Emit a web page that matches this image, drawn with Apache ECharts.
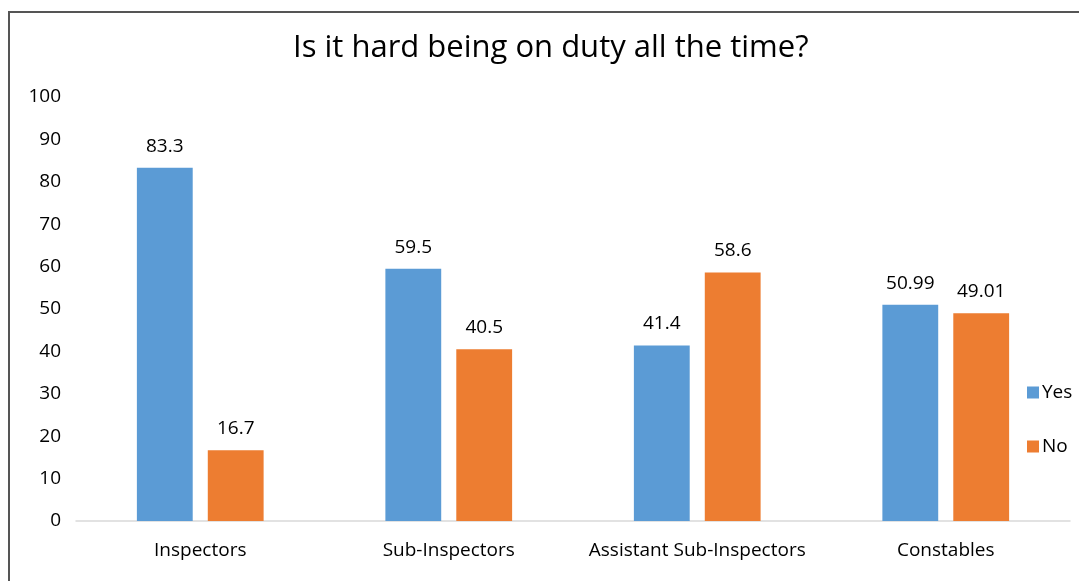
<!DOCTYPE html>
<html>
<head>
<meta charset="utf-8">
<script src="https://cdn.jsdelivr.net/npm/echarts@6/dist/echarts.min.js"></script>
<style>
html,body{margin:0;padding:0;background:#fff;overflow:hidden;}
#frame{position:absolute;left:8px;top:11px;width:1100px;height:600px;border-left:2px solid #555;border-top:2px solid #555;box-sizing:border-box;}
#chart{position:absolute;left:0;top:0;width:1079px;height:581px;}
</style>
</head>
<body>
<div id="frame"></div>
<div id="chart"></div>
<script>
const categories = ['Inspectors', 'Sub-Inspectors', 'Assistant Sub-Inspectors', 'Constables'];
const yesValues = [83.3, 59.5, 41.4, 50.99];
const noValues = [16.7, 40.5, 58.6, 49.01];
const seriesNames = ['Yes', 'No'];
const titleText = 'Is it hard being on duty all the time?';

const FONT = 'Open Sans';
const chart = echarts.init(document.getElementById('chart'));
const labelStyle = {show: true, position: 'top', distance: 12, color: '#000', fontSize: 19, fontFamily: FONT};
chart.setOption({
  animation: false,
  backgroundColor: 'transparent',
  title: {text: titleText, left: 288, top: 28, textStyle: {fontFamily: FONT, fontSize: 31, fontWeight: 'normal', color: '#000'}},
  grid: {left: 76, right: 9, top: 97, bottom: 60, containLabel: false},
  legend: {orient: 'vertical', left: 1022, top: 378, itemGap: 35, itemWidth: 12, itemHeight: 12, icon: 'rect',
    textStyle: {fontFamily: FONT, fontSize: 19, color: '#000', padding: [0,0,0,-2]}, data: seriesNames},
  xAxis: {type: 'category', data: categories,
    axisLine: {lineStyle: {color: '#D9D9D9', width: 1.5}}, axisTick: {show: false},
    axisLabel: {color: '#000', fontSize: 19, fontFamily: FONT, margin: 20, interval: 0}},
  yAxis: {type: 'value', min: 0, max: 100, interval: 10,
    splitLine: {show: false}, axisLine: {show: false}, axisTick: {show: false},
    axisLabel: {color: '#000', fontSize: 19, fontFamily: FONT, margin: 15}},
  series: [
    {name: seriesNames[0], type: 'bar', data: yesValues, itemStyle: {color: '#5B9BD5'}, barGap: '27%', barCategoryGap: '49%', label: labelStyle},
    {name: seriesNames[1], type: 'bar', data: noValues, itemStyle: {color: '#ED7D31'}, label: labelStyle}
  ]
});
</script>
</body>
</html>
